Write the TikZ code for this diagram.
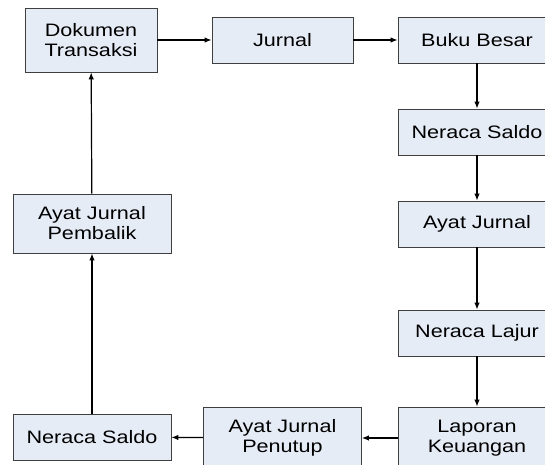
\documentclass[tikz,border=0pt]{standalone}
\usepackage{fontspec}
\setmainfont{Liberation Sans}[FakeStretch=1.2]
\usetikzlibrary{arrows, arrows.meta}
\definecolor{boxfill}{HTML}{E6ECF6}
\definecolor{boxline}{HTML}{3F3F3F}

\begin{document}
\begin{tikzpicture}[x=1pt, y=-1pt,
    box/.style={draw=boxline, fill=boxfill, line width=0.8pt, minimum width=158pt,
      minimum height=46pt, inner sep=0pt, align=center, font=\fontsize{18}{20}\selectfont},
    twoline/.style={minimum height=62pt},
    flow/.style={-{Latex[length=7pt,width=5.5pt]}, line width=1.2pt}]
    \useasboundingbox (0,0) rectangle (545,464);
    \clip (0,0) rectangle (545,464);

    \node[box, twoline, minimum width=132pt, minimum height=64pt] (1) at (91,40) {Dokumen\\Transaksi};
    \node[box, minimum width=141pt] (2) at (282.5,40) {Jurnal};
    \node[box] (3) at (477,40) {Buku Besar};
    \node[box] (4) at (477,132) {Neraca Saldo};
    \node[box] (5) at (477,224) {Ayat Jurnal};
    \node[box] (6) at (477,333) {Neraca Lajur};
    \node[box, twoline] (7) at (477,438) {Laporan\\Keuangan};
    \node[box, twoline] (8) at (282.5,438) {Ayat Jurnal\\Penutup};
    \node[box] (9) at (92,437) {Neraca Saldo};
    \node[box, twoline, minimum height=59pt] (10) at (92,223.5) {Ayat Jurnal\\Pembalik};

    \draw[flow] (1) -- (2);
    \draw[flow] (2) -- (3);
    \draw[flow] (3) -- (4);
    \draw[flow] (4) -- (5);
    \draw[flow] (5) -- (6);
    \draw[flow] (6) -- (7);
    \draw[flow] (7) -- (8);
    \draw[flow] (8) -- (9);
    \draw[flow] (9) -- (10);
    \draw[flow] (10) -- (1);
  \end{tikzpicture}
\end{document}
